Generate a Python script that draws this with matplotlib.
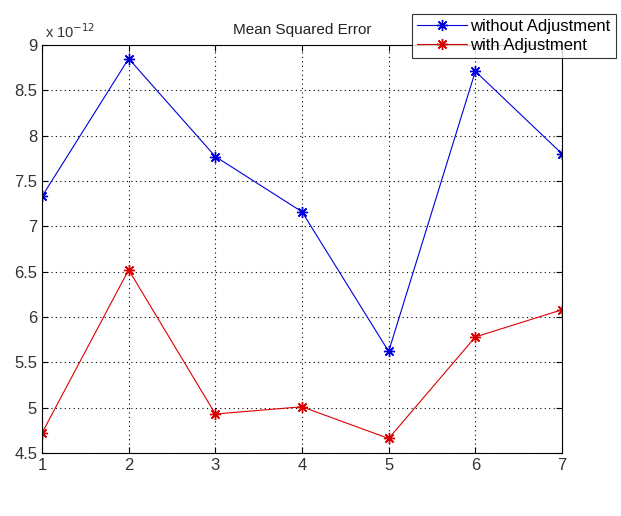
import matplotlib.pyplot as plt

# values in units of 1e-12
runs = [1, 2, 3, 4, 5, 6, 7]
mse_without = [7.33, 8.85, 7.77, 7.16, 5.62, 8.71, 7.80]
mse_with = [4.72, 6.52, 4.93, 5.01, 4.66, 5.78, 6.08]
y_ticks = [4.5, 5, 5.5, 6, 6.5, 7, 7.5, 8, 8.5, 9]

plt.rcParams['font.family'] = ['Liberation Sans', 'DejaVu Sans']

fig = plt.figure(figsize=(6.21, 5.16), dpi=100)
ax = fig.add_axes([42 / 621, 63 / 516, 520 / 621, 408 / 516])

# MATLAB-like asterisk marker (+ and x together)
star = (8, 2, 0)
ax.plot(runs, mse_without, color='#0000dd', marker=star, markersize=8, linewidth=0.8,
        markeredgewidth=1.0, label='without Adjustment')
ax.plot(runs, mse_with, color='#dd0000', marker=star, markersize=8, linewidth=0.8,
        markeredgewidth=1.0, label='with Adjustment')

ax.set_xlim(1, 7)
ax.set_ylim(4.5, 9)
ax.set_xticks(runs)
ax.set_yticks(y_ticks)
ax.set_yticklabels([('%g' % t) for t in y_ticks])
ax.tick_params(labelsize=12, labelcolor='#333333', direction='in', length=4,
               top=True, right=True)
ax.grid(True, linestyle=(0, (1, 3)), color='black', linewidth=0.8)
for s in ax.spines.values():
    s.set_linewidth(0.8)

ax.set_title('Mean Squared Error', fontsize=11, pad=8, color='#222222')
ax.text(0.005, 1.01, 'x 10$^{-12}$', transform=ax.transAxes, fontsize=10.5,
        ha='left', va='bottom', color='#333333')

leg = fig.legend(loc='lower left', bbox_to_anchor=(412 / 621, 458 / 516),
                 fontsize=12, frameon=True, fancybox=False, edgecolor='black',
                 handlelength=3.0, borderpad=0.3, labelspacing=0.25, handletextpad=0.2,
                 borderaxespad=0)
leg.get_frame().set_linewidth(0.8)

fig.savefig('out.png', dpi=100)
